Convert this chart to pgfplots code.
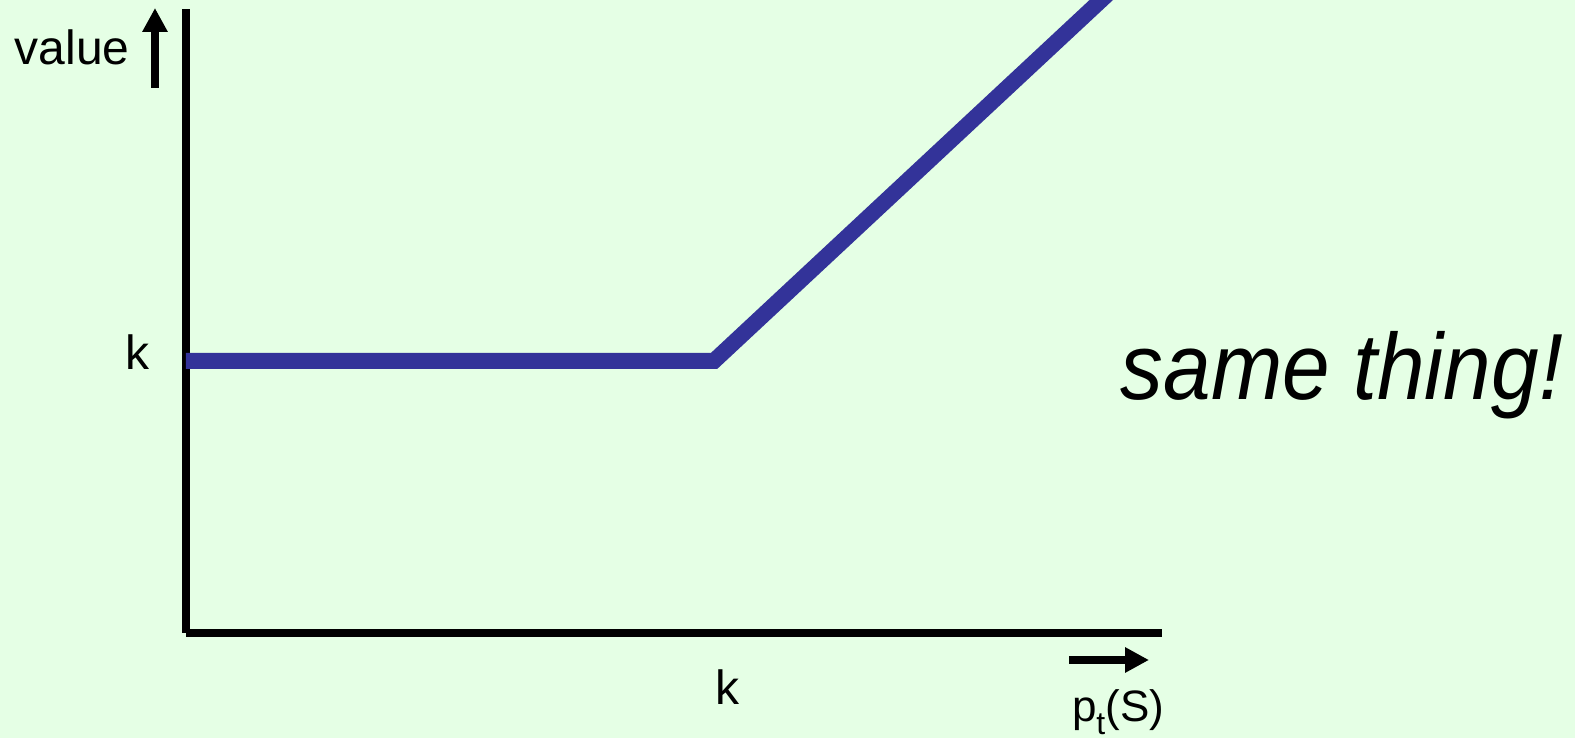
\documentclass[border=0pt]{standalone}
\usepackage{fontspec}
\setmainfont{Liberation Sans}
\usepackage{pgfplots}
\pgfplotsset{compat=1.18}
\usetikzlibrary{arrows.meta}
\definecolor{bgcol}{RGB}{229,255,229}
\definecolor{payoff}{RGB}{51,51,153}
% 1 px of the reference = 0.25pt; data coordinates are in reference pixels
\begin{document}
\begin{tikzpicture}
  \fill[bgcol, use as bounding box] (0,0) rectangle (393.75pt,184.5pt);
  \begin{axis}[
      at={(46.5pt,26.25pt)}, anchor=south west,
      scale only axis,
      width=244pt, height=156pt,
      xmin=186, xmax=1162,
      ymin=105, ymax=729,
      axis lines*=left,
      axis line style={line width=1.9pt},
      clip=false,
      xtick={727}, xticklabels={k},
      ytick={386}, yticklabels={k},
      major tick length=0pt,
      tick style={draw=none},
      xticklabel style={font=\fontsize{12}{14}\selectfont, anchor=north, inner sep=0pt, yshift=-9pt},
      yticklabel style={font=\fontsize{12}{14}\selectfont, anchor=east, inner sep=0pt, xshift=-9pt},
    ]
    % payoff: flat at k, then rising
    \addplot[payoff, line width=4pt, no marks] coordinates {
      (186,377) (714,377) (1112,748)
    };
    % axis names with arrows
    \draw[line width=2pt, -{Triangle[length=6pt,width=6pt]}] (axis cs:155,650) -- (axis cs:155,730);
    \node[anchor=base west, inner sep=0pt, font=\fontsize{12}{14}\selectfont] at (axis cs:14,673) {value};
    \draw[line width=2pt, -{Triangle[length=6pt,width=6pt]}] (axis cs:1069,78) -- (axis cs:1149,78);
    \node[anchor=base, inner sep=0pt, font=\fontsize{11}{13}\selectfont] at (axis cs:1118,16)
      {p\raisebox{-0.28em}{\fontsize{8}{9}\selectfont t}(S)};
    \node[anchor=base west, inner sep=0pt, xscale=0.91, font=\fontsize{23.5}{28}\selectfont\itshape]
      at (axis cs:1120,338) {same thing!};
  \end{axis}
\end{tikzpicture}
\end{document}
